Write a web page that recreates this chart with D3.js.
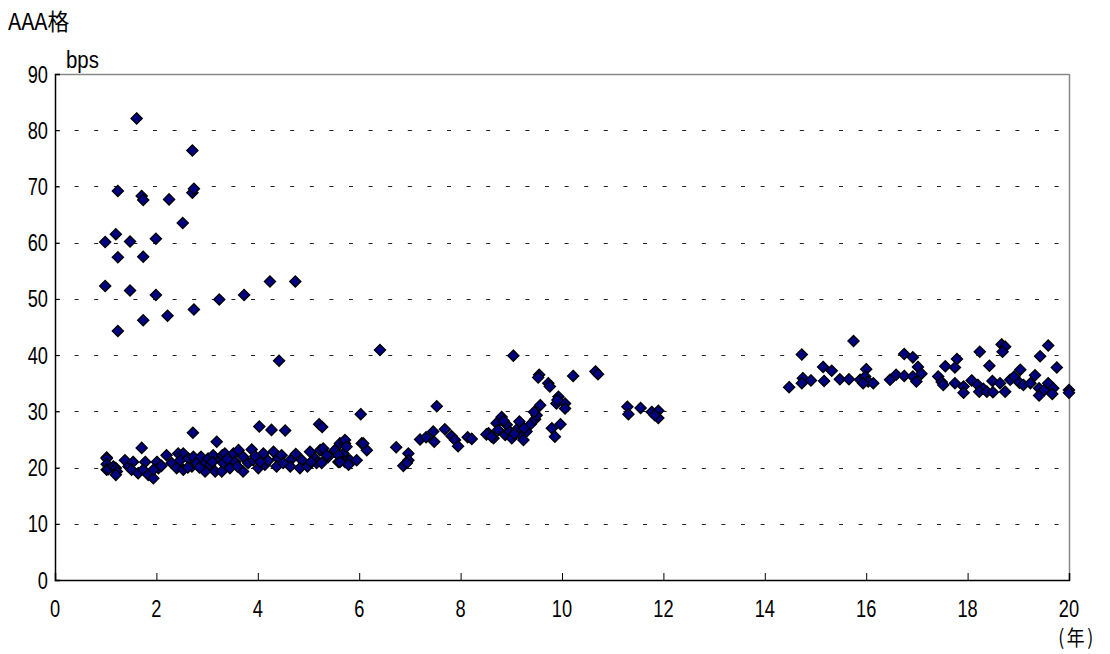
<!DOCTYPE html>
<html>
<head>
<meta charset="utf-8">
<script src="https://cdn.jsdelivr.net/npm/d3@7"></script>
<style>
  body { margin: 0; background: #fff; }
  svg { display: block; }
  .tick-label { font-family: "Liberation Sans", Arial, sans-serif; font-size: 24px; fill: #000; }
</style>
</head>
<body>
<svg id="chart" width="1110" height="654"></svg>
<script>
// Spread (bps) against remaining maturity (years) for AAA-rated bonds
const chartTitle = "AAA格";
const yUnit = "bps";
const xUnit = "(年)";
const xTicks = [0, 2, 4, 6, 8, 10, 12, 14, 16, 18, 20];
const yTicks = [0, 10, 20, 30, 40, 50, 60, 70, 80, 90];

// short maturities: wide outliers
const quotesShortOutliers = [
  [0.99,60.1],[0.99,52.3],[1.20,61.5],[1.24,69.2],[1.24,57.4],[1.24,44.3],[1.48,60.2],[1.48,51.5],
  [1.61,82.1],[1.71,68.3],[1.74,67.6],[1.74,57.5],[1.74,46.2],[1.99,60.7],[1.99,50.7],[2.22,47.0],
  [2.25,67.7],[2.52,63.5],[2.71,76.4],[2.71,68.9],[2.74,69.6],[2.74,48.1],[3.24,49.9],[3.73,50.7],
  [4.24,53.1],[4.74,53.1],[4.42,39.0],[6.41,40.9]
];

// 1 to 6 years: main band
const quotesShort = [
  [1.02,21.8],[1.02,21.6],[1.02,20.6],[1.02,19.6],[1.05,19.7],[1.15,20.2],[1.20,19.9],[1.22,19.3],
  [1.20,18.7],[1.71,23.5],[1.38,21.3],[1.45,20.2],[1.54,21.0],[1.51,19.6],[1.64,19.0],[1.78,21.0],
  [1.74,19.6],[1.84,18.7],[1.94,18.1],[2.01,21.0],[2.04,19.9],[1.94,19.6],
  [2.72,26.2],[3.19,24.6],[2.20,22.2],[2.30,20.8],[2.43,22.5],[2.53,22.5],[2.47,21.3],[2.40,19.9],
  [2.53,19.6],[2.63,21.6],[2.70,20.2],[2.73,21.9],[2.79,20.8],[2.88,21.9],[2.93,20.5],[2.96,19.3],
  [3.02,21.6],[3.06,20.5],[3.12,22.2],[3.16,19.3],[3.27,21.3],[3.30,22.2],[2.10,20.3],[2.62,20.0],
  [2.85,20.0],[3.10,21.0],
  [4.03,27.3],[4.27,26.7],[4.54,26.6],[5.21,27.7],[5.27,27.2],
  [3.35,22.5],[3.32,20.8],[3.29,19.3],[3.52,22.5],[3.62,23.1],[3.55,21.0],[3.45,19.9],[3.71,21.9],
  [3.71,19.3],[3.88,23.2],[3.81,20.8],[3.91,21.3],[4.01,19.9],[4.11,22.5],[4.14,20.5],[4.31,22.8],
  [4.40,21.6],[4.47,22.2],[4.37,20.2],[4.64,21.3],[4.64,20.2],[4.87,21.3],[4.83,19.9],[4.98,20.2],
  [5.03,22.8],[5.13,21.6],[5.16,20.8],[5.23,23.1],[5.29,23.4],[5.39,21.9],[5.52,22.8],[5.62,24.3],
  [5.72,24.3],[5.69,22.5],[5.59,21.0],[5.79,21.3],[5.72,21.0],[5.36,22.2],[5.52,23.1],[5.59,22.2],
  [5.72,24.9],[5.75,23.7],[5.62,21.0],[5.82,21.3],[5.79,20.5],[5.95,21.3],[6.05,24.3],[6.15,23.1],
  [6.08,24.3],[6.03,29.5],[5.26,20.8],[3.60,20.2],[3.95,22.0],[4.20,21.2],[4.50,20.8],[4.75,22.4],
  [5.05,21.0],[3.40,21.5],[4.05,21.0]
];

// 6.5 to 12 years
const quotesMid = [
  [6.73,23.6],[6.97,22.5],[6.97,21.3],[6.87,20.3],[6.94,20.8],[7.20,25.0],[7.32,25.4],[7.46,26.4],
  [7.48,24.6],[7.53,30.9],[7.69,26.8],[7.82,25.6],[7.89,24.9],[7.95,23.8],[8.14,25.4],[8.22,25.1],
  [8.55,26.1],[8.51,25.9],[8.65,25.2],[8.81,29.0],[8.71,27.9],[8.74,26.7],[8.91,27.6],[8.88,25.8],
  [8.97,26.4],[9.01,25.2],[9.04,39.9],[9.16,28.2],[9.10,26.7],[9.20,25.8],[9.24,24.9],[9.30,26.4],
  [9.38,27.7],[9.47,28.6],[9.50,29.3],[9.45,29.9],[9.57,31.1],[9.55,36.5],[9.53,36.0],[9.73,35.0],
  [9.76,34.4],[10.22,36.3],[9.93,32.6],[9.89,31.4],[10.06,31.4],[10.06,30.5],[9.91,32.0],[9.80,27.0],
  [9.97,27.7],[9.86,25.5],[10.66,37.1],[10.71,36.6],[8.61,25.5],[8.85,28.3],[9.06,26.0],[9.25,27.0],
  [11.29,30.8],[11.31,29.5],[11.55,30.6],[11.77,29.9],[11.90,30.1],[11.90,28.8],[11.83,29.3]
];

// 14 to 20 years
const quotesLong = [
  [14.48,34.3],[14.73,40.1],[14.75,35.9],[14.73,35.0],[14.91,35.5],[15.15,37.9],[15.32,37.2],[15.17,35.4],
  [15.48,35.7],[15.75,42.5],[15.66,35.7],[16.00,37.5],[15.88,35.6],[15.98,36.2],[16.04,35.3],[16.14,35.0],
  [15.94,35.0],[16.47,35.6],[16.59,36.5],[16.75,40.2],[16.92,39.6],[16.75,36.3],[16.92,36.2],[17.02,37.9],
  [17.09,36.7],[16.99,35.3],[17.42,36.2],[17.49,35.2],[17.52,34.7],[17.56,38.0],[17.79,39.3],[17.75,37.8],
  [17.75,35.0],[17.92,34.4],[17.92,33.3],[18.08,35.5],[18.20,34.7],[18.24,40.6],[18.43,38.1],[18.31,34.0],
  [18.23,33.5],[18.38,33.5],[18.49,35.4],[18.50,33.4],[18.64,35.0],[18.74,33.5],[18.67,41.9],[18.74,41.5],
  [18.69,40.6],[18.84,35.6],[18.92,36.2],[19.04,37.4],[19.02,35.1],[19.10,34.7],[19.24,35.0],[19.33,36.4],
  [19.43,39.8],[19.59,41.7],[19.41,34.1],[19.41,32.8],[19.51,33.8],[19.59,35.0],[19.69,34.1],[19.67,33.1],
  [19.76,37.8],[20.0,33.8],[20.0,33.3]
];

const quotes = [...quotesShortOutliers, ...quotesShort, ...quotesMid, ...quotesLong];

const svg = d3.select("#chart");
const plot = { left: 55, right: 1069, top: 74, bottom: 580 };
const condense = 0.76; // horizontal squeeze for the narrow label face

const x = d3.scaleLinear().domain([0, 20]).range([plot.left, plot.right]);
const y = d3.scaleLinear().domain([0, 90]).range([plot.bottom, plot.top]);

// frame: light top/right edges
svg.append("line").attr("x1", plot.left).attr("x2", plot.right)
  .attr("y1", plot.top + 0.5).attr("y2", plot.top + 0.5)
  .attr("stroke", "#888").attr("stroke-width", 1.5);
svg.append("line").attr("x1", plot.right + 0.5).attr("x2", plot.right + 0.5)
  .attr("y1", plot.top).attr("y2", plot.bottom)
  .attr("stroke", "#888").attr("stroke-width", 1.5);

// dashed gridlines
svg.append("g").selectAll("line")
  .data(yTicks.filter(v => v > 0 && v < 90))
  .join("line")
  .attr("x1", plot.left).attr("x2", plot.right - 8)
  .attr("y1", d => Math.round(y(d)) + 0.5).attr("y2", d => Math.round(y(d)) + 0.5)
  .attr("stroke", "#222").attr("stroke-width", 1)
  .attr("stroke-dasharray", "4,15.6");

// y axis (ticks pointing inward)
const yAxis = d3.axisRight(y).tickValues(yTicks).tickSize(5).tickFormat("");
const gy = svg.append("g").attr("transform", `translate(${plot.left},0)`).call(yAxis);
gy.select(".domain").attr("stroke", "#000").attr("stroke-width", 1.5);
gy.selectAll(".tick line").attr("stroke", "#000");

svg.append("g").selectAll("text")
  .data(yTicks).join("text")
  .attr("class", "tick-label")
  .attr("transform", d => `translate(${plot.left - 7},${y(d) + 8.5}) scale(${condense},1)`)
  .attr("text-anchor", "end")
  .text(d => d);

// x axis (ticks pointing upward into the plot)
const xAxis = d3.axisTop(x).tickValues(xTicks).tickSize(7).tickFormat("");
const gx = svg.append("g").attr("transform", `translate(0,${plot.bottom})`).call(xAxis);
gx.select(".domain").attr("stroke", "#000").attr("stroke-width", 1.5);
gx.selectAll(".tick line").attr("stroke", "#000");

svg.append("g").selectAll("text")
  .data(xTicks).join("text")
  .attr("class", "tick-label")
  .attr("transform", d => `translate(${x(d)},${plot.bottom + 37}) scale(${condense},1)`)
  .attr("text-anchor", "middle")
  .text(d => d);

// unit labels and title
svg.append("text").attr("class", "tick-label")
  .attr("transform", `translate(66,68) scale(0.85,1)`).text(yUnit);
svg.append("text")
  .attr("transform", `translate(1077,645) scale(0.85,1)`)
  .attr("text-anchor", "middle")
  .style("font-family", "'Noto Sans CJK JP', sans-serif").style("font-size", "21px")
  .style("letter-spacing", "3px")
  .text(xUnit);
svg.append("text")
  .attr("transform", `translate(8,30) scale(0.95,1)`)
  .style("font-family", "'Noto Sans CJK JP', sans-serif").style("font-size", "23px")
  .text(chartTitle);

// diamond markers
const r = 5.6;
const diamond = `M0,${-r}L${r},0L0,${r}L${-r},0Z`;
svg.append("g").selectAll("path")
  .data(quotes).join("path")
  .attr("d", diamond)
  .attr("transform", d => `translate(${x(d[0])},${y(d[1])})`)
  .attr("fill", "#000080")
  .attr("stroke", "#000").attr("stroke-width", 1.3);
</script>
</body>
</html>
